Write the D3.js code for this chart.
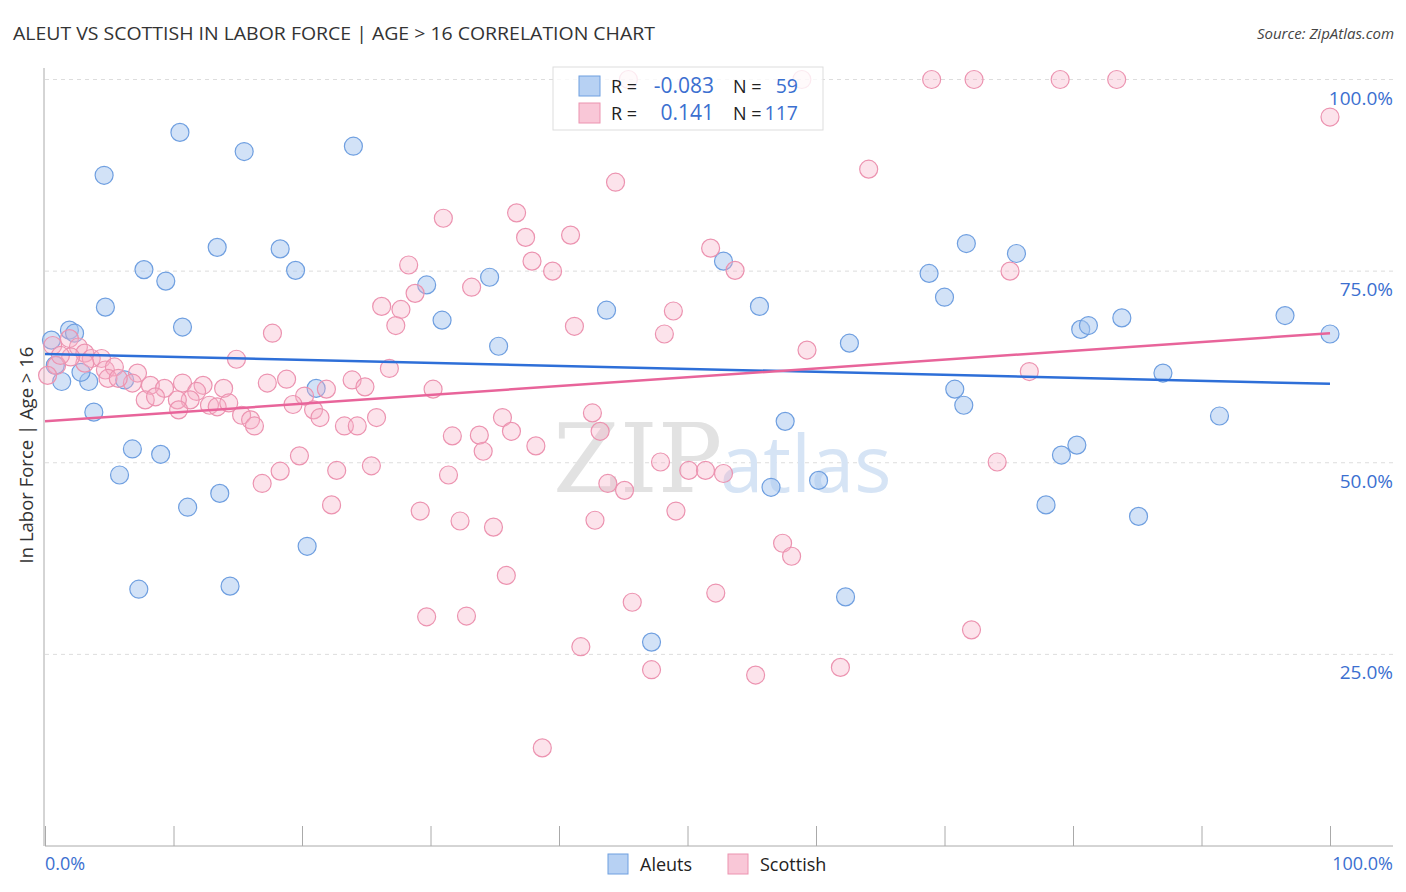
<!DOCTYPE html>
<html>
<head>
<meta charset="utf-8">
<script src="https://cdn.jsdelivr.net/npm/d3@7"></script>
<style>
  body { margin: 0; background: #fff; }
  svg { display: block; font-family: "Open Sans", sans-serif; }
</style>
</head>
<body>
<svg id="chart" width="1406" height="892"></svg>
<script>
// --------------------------------------
// DATA (percent values)
// --------------------------------------
var aleutX = [10.5, 15.5, 24.0, 4.6, 13.4, 18.3, 7.7, 9.4, 19.5, 34.6, 29.7, 4.7, 10.7, 30.9, 0.5,
    1.9, 2.3, 35.3, 43.7, 52.8, 55.6, 62.6, 71.7, 68.8, 70.0, 75.6, 80.6, 81.2, 83.8, 96.5, 100.0,
    70.8, 71.5, 87.0, 91.4, 80.3, 79.1, 77.9, 85.1, 57.6, 56.5, 60.2, 62.3, 47.2, 21.1, 6.2, 1.3,
    3.4, 2.8, 0.8, 3.8, 6.8, 9.0, 5.8, 11.1, 13.6, 20.4, 7.3, 14.4];
var aleutY = [93.1, 90.6, 91.3, 87.5, 78.1, 77.9, 75.2, 73.7, 75.1, 74.2, 73.2, 70.3, 67.7, 68.6, 66.0,
    67.3, 66.9, 65.2, 69.9, 76.3, 70.4, 65.6, 78.6, 74.7, 71.6, 77.3, 67.4, 67.9, 68.9, 69.2, 66.8,
    59.6, 57.5, 61.7, 56.1, 52.3, 51.0, 44.5, 43.0, 55.4, 46.8, 47.7, 32.5, 26.6, 59.7, 60.8, 60.6,
    60.6, 61.8, 62.7, 56.6, 51.8, 51.1, 48.4, 44.2, 46.0, 39.1, 33.5, 33.9];

var scottishX = [45.4, 58.9, 69.0, 72.3, 79.0, 83.4, 100.0, 44.4, 64.1, 31.0, 36.7, 37.4, 40.9, 37.9,
    39.5, 28.3, 28.8, 33.2, 26.2, 27.7, 27.3, 17.7, 14.9, 51.8, 53.7, 75.1, 41.2, 48.9, 48.2, 59.3,
    76.6, 74.1, 72.1, 26.8, 17.3, 18.8, 23.9, 24.9, 21.9, 20.2, 19.3, 20.9, 21.4, 23.3, 24.3, 25.8,
    30.2, 31.7, 31.4, 25.4, 22.7, 19.8, 18.3, 16.9, 22.3, 29.2, 32.3, 29.7, 32.8, 35.6, 36.3, 33.8,
    34.1, 38.2, 42.6, 43.2, 34.9, 35.9, 41.7, 38.7, 47.9, 50.1, 51.4, 52.8, 43.8, 45.1, 49.1, 45.7,
    52.2, 47.2, 55.3, 61.9, 57.4, 58.1, 42.8,
    10.7, 12.3, 11.8, 13.9, 11.3, 10.3, 10.4, 12.8, 13.4, 14.3, 15.3, 16.0, 16.3,
    7.2, 6.8, 8.2, 9.3, 7.8, 8.6,
    0.6, 1.9, 2.6, 3.1, 3.6, 4.4, 3.1, 2.0, 0.9, 1.2, 4.7, 5.4, 4.9, 5.7, 0.2];
var scottishY = [100, 100, 100, 100, 100, 100, 95.1, 86.6, 88.3, 81.9, 82.6, 79.4, 79.7, 76.3,
    75.0, 75.8, 72.1, 72.9, 70.4, 70.0, 67.9, 66.9, 63.5, 78.0, 75.1, 75.0, 67.8, 69.8, 66.8, 64.7,
    61.9, 50.1, 28.2, 62.3, 60.4, 60.9, 60.8, 59.9, 59.6, 58.7, 57.6, 56.9, 55.9, 54.8, 54.8, 55.9,
    59.6, 53.5, 48.4, 49.6, 49.0, 50.9, 48.9, 47.3, 44.5, 43.7, 42.4, 29.9, 30.0, 55.9, 54.1, 53.6,
    51.5, 52.2, 56.5, 54.1, 41.6, 35.3, 26.0, 12.8, 50.1, 49.0, 49.0, 48.6, 47.3, 46.4, 43.7, 31.8,
    33.0, 23.0, 22.3, 23.3, 39.5, 37.8, 42.5,
    60.4, 60.1, 59.3, 59.7, 58.2, 58.2, 56.9, 57.5, 57.3, 57.8, 56.2, 55.6, 54.8,
    61.7, 60.4, 60.1, 59.7, 58.2, 58.6,
    65.3, 66.2, 65.1, 64.3, 63.6, 63.6, 63.0, 63.8, 62.7, 64.0, 62.1, 62.5, 61.0, 61.0, 61.4];

// trend line values at x = 0% and x = 100%
var trendAleut = [64.2, 60.3];
var trendScottish = [55.4, 66.9];

var yTicks = [25, 50, 75, 100];
var xTickCount = 10;
var legendRows = [
    { r: '-0.083', n: '59' },
    { r: '0.141', n: '117' }
];
var seriesNames = ['Aleuts', 'Scottish'];

// --------------------------------------
// CONFIG
// --------------------------------------
var COLORS = {
    blueFill: 'rgba(165, 198, 240, 0.5)',
    blueStroke: '#6f9fe0',
    blueLine: '#2e6fd8',
    pinkFill: 'rgba(247, 175, 198, 0.35)',
    pinkStroke: '#ec93b0',
    pinkLine: '#e8649a',
    label: '#3b6fd0'
};

var svg = d3.select('#chart');

var x = d3.scaleLinear().domain([0, 100]).range([45, 1330]);
var y = d3.scaleLinear().domain([0, 100]).range([846, 79.5]);

// title + source
svg.append('text')
    .attr('x', 13).attr('y', 40)
    .attr('font-size', 18.5).attr('fill', '#333')
    .attr('textLength', 642).attr('lengthAdjust', 'spacingAndGlyphs')
    .text('ALEUT VS SCOTTISH IN LABOR FORCE | AGE > 16 CORRELATION CHART');

svg.append('text')
    .attr('x', 1394).attr('y', 39)
    .attr('text-anchor', 'end')
    .attr('font-size', 15).attr('font-style', 'italic').attr('fill', '#444')
    .text('Source: ZipAtlas.com');

// gridlines
svg.append('g').selectAll('line')
    .data(yTicks)
    .enter().append('line')
    .attr('x1', 45).attr('x2', 1393)
    .attr('y1', function(d){ return y(d); })
    .attr('y2', function(d){ return y(d); })
    .attr('stroke', '#ddd')
    .attr('stroke-dasharray', '4,4');

// right side tick labels
svg.append('g').selectAll('text')
    .data(yTicks)
    .enter().append('text')
    .attr('x', 1393)
    .attr('y', function(d){ return y(d) + 25; })
    .attr('text-anchor', 'end')
    .attr('font-size', 19)
    .attr('fill', COLORS.label)
    .text(function(d){ return d3.format('.1f')(d) + '%'; });

// axes
var xAxis = d3.axisBottom(x).ticks(xTickCount).tickSize(-20).tickFormat('');
var gx = svg.append('g').attr('transform', 'translate(0,846)').call(xAxis);
gx.select('.domain').remove();
gx.selectAll('.tick line').attr('stroke', '#aaa');
svg.append('line')
    .attr('x1', 45).attr('x2', 1393).attr('y1', 846).attr('y2', 846)
    .attr('stroke', '#aaa');
svg.append('line')
    .attr('x1', 44).attr('x2', 44).attr('y1', 68).attr('y2', 846)
    .attr('stroke', '#aaa');

svg.append('text')
    .attr('x', 45).attr('y', 870)
    .attr('font-size', 18).attr('fill', COLORS.label)
    .text('0.0%');
svg.append('text')
    .attr('x', 1393).attr('y', 870)
    .attr('text-anchor', 'end')
    .attr('font-size', 18).attr('fill', COLORS.label)
    .text('100.0%');

// y axis title
svg.append('text')
    .attr('transform', 'translate(33,455) rotate(-90)')
    .attr('text-anchor', 'middle')
    .attr('font-size', 18.5).attr('fill', '#333')
    .text('In Labor Force | Age > 16');

// watermark
svg.append('text')
    .attr('x', 553).attr('y', 492)
    .attr('font-family', '"DejaVu Serif", "Liberation Serif", serif')
    .attr('font-size', 96)
    .attr('fill', '#e2e2e2')
    .text('ZIP');
svg.append('text')
    .attr('x', 720).attr('y', 492)
    .attr('font-size', 78)
    .attr('fill', '#d6e4f5')
    .text('atlas');

// points
function drawPoints(xs, ys, fill, stroke){
    svg.append('g').selectAll('circle')
        .data(d3.range(xs.length))
        .enter().append('circle')
        .attr('cx', function(i){ return x(xs[i]); })
        .attr('cy', function(i){ return y(ys[i]); })
        .attr('r', 9)
        .attr('fill', fill)
        .attr('stroke', stroke)
        .attr('stroke-width', 1.2);
}
drawPoints(aleutX, aleutY, COLORS.blueFill, COLORS.blueStroke);
drawPoints(scottishX, scottishY, COLORS.pinkFill, COLORS.pinkStroke);

// trend lines
var line = d3.line()
    .x(function(d, i){ return x(i * 100); })
    .y(function(d){ return y(d); });

svg.append('path').datum(trendAleut)
    .attr('d', line).attr('fill', 'none')
    .attr('stroke', COLORS.blueLine).attr('stroke-width', 2.5);
svg.append('path').datum(trendScottish)
    .attr('d', line).attr('fill', 'none')
    .attr('stroke', COLORS.pinkLine).attr('stroke-width', 2.5);

// top legend
var leg = svg.append('g');
leg.append('rect')
    .attr('x', 553).attr('y', 67).attr('width', 270).attr('height', 63)
    .attr('fill', 'rgba(255,255,255,0.8)').attr('stroke', '#ddd');

legendRows.forEach(function(row, i){
    var cy = 86 + i * 27;
    leg.append('rect')
        .attr('x', 579).attr('y', cy - 10).attr('width', 21).attr('height', 20)
        .attr('fill', i === 0 ? 'rgba(165,198,240,0.8)' : 'rgba(247,175,198,0.7)')
        .attr('stroke', i === 0 ? COLORS.blueStroke : COLORS.pinkStroke);
    leg.append('text')
        .attr('x', 611).attr('y', cy + 7)
        .attr('font-size', 18).attr('fill', '#222')
        .text('R =');
    leg.append('text')
        .attr('x', 714).attr('y', cy + 7)
        .attr('text-anchor', 'end')
        .attr('font-size', 21).attr('fill', COLORS.label)
        .text(row.r);
    leg.append('text')
        .attr('x', 733).attr('y', cy + 7)
        .attr('font-size', 18).attr('fill', '#222')
        .text('N =');
    leg.append('text')
        .attr('x', 798).attr('y', cy + 7)
        .attr('text-anchor', 'end')
        .attr('font-size', 19.5).attr('fill', COLORS.label)
        .text(row.n);
});

// bottom legend
var bl = svg.append('g');
seriesNames.forEach(function(name, i){
    var bx = 608 + i * 120;
    bl.append('rect')
        .attr('x', bx).attr('y', 854).attr('width', 20).attr('height', 20)
        .attr('fill', i === 0 ? 'rgba(165,198,240,0.8)' : 'rgba(247,175,198,0.7)')
        .attr('stroke', i === 0 ? COLORS.blueStroke : COLORS.pinkStroke);
    bl.append('text')
        .attr('x', bx + 32).attr('y', 871)
        .attr('font-size', 18).attr('fill', '#222')
        .text(name);
});
</script>
</body>
</html>
